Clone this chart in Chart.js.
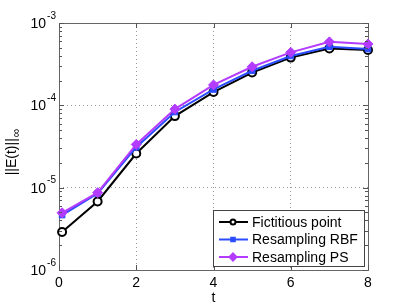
<!DOCTYPE html>
<html><head><meta charset="utf-8">
<script src="https://cdn.jsdelivr.net/npm/chart.js@4"></script>
<style>html,body{margin:0;padding:0;background:#fff}</style>
</head><body>
<div style="width:407px;height:306px"><canvas id="c"></canvas></div>
<script>
const tVals = [0.08, 1, 2, 3, 4, 5, 6, 7, 8];
const fictitious = [2.9e-6, 6.8e-6, 2.6e-5, 7.4e-5, 1.45e-4, 2.5e-4, 3.8e-4, 4.9e-4, 4.7e-4];
const resRBF = [4.65e-6, 8.5e-6, 3.1e-5, 8.3e-5, 1.56e-4, 2.63e-4, 3.98e-4, 5.15e-4, 4.83e-4];
const resPS = [4.95e-6, 8.7e-6, 3.35e-5, 9.0e-5, 1.77e-4, 2.94e-4, 4.4e-4, 5.9e-4, 5.55e-4];
const seriesNames = ["Fictitious point", "Resampling RBF", "Resampling PS"];
const xTicks = [0, 2, 4, 6, 8];
const yExps = [-6, -5, -4, -3];

const FONT = '"Liberation Sans", Arial, sans-serif';
const toPts = arr => arr.map((v, i) => ({ x: tVals[i], y: v }));

// etiquetas, ticks internos, caja y leyenda al estilo MATLAB
const matlabLook = {
  id: 'matlabLook',
  beforeDatasetsDraw(chart) {
    const { ctx, chartArea: a } = chart;
    ctx.save();
    ctx.strokeStyle = '#666';
    ctx.lineWidth = 1;
    ctx.strokeRect(Math.round(a.left) + 0.5, Math.round(a.top) + 0.5,
      Math.round(a.right - a.left), Math.round(a.bottom - a.top));
    ctx.restore();
  },
  afterDraw(chart) {
    const { ctx, chartArea: a, scales: { x, y } } = chart;
    ctx.save();
    ctx.strokeStyle = '#555';
    ctx.lineWidth = 1;
    ctx.beginPath();
    yExps.forEach(e => {
      const py = Math.round(y.getPixelForValue(Math.pow(10, e))) + 0.5;
      ctx.moveTo(a.left, py); ctx.lineTo(a.left + 5, py);
      ctx.moveTo(a.right, py); ctx.lineTo(a.right - 5, py);
      if (e < -3) {
        for (let m = 2; m <= 9; m++) {
          const qy = Math.round(y.getPixelForValue(m * Math.pow(10, e))) + 0.5;
          ctx.moveTo(a.left, qy); ctx.lineTo(a.left + 3, qy);
          ctx.moveTo(a.right, qy); ctx.lineTo(a.right - 3, qy);
        }
      }
    });
    xTicks.forEach(t => {
      const px = Math.round(x.getPixelForValue(t)) + 0.5;
      ctx.moveTo(px, a.bottom); ctx.lineTo(px, a.bottom - 5);
      ctx.moveTo(px, a.top); ctx.lineTo(px, a.top + 5);
    });
    ctx.stroke();

    ctx.fillStyle = '#000';
    ctx.textBaseline = 'middle';
    yExps.forEach(e => {
      const py = y.getPixelForValue(Math.pow(10, e));
      const sup = String(e);
      ctx.font = '10px ' + FONT;
      const sw = ctx.measureText(sup).width;
      ctx.font = '14px ' + FONT;
      ctx.textAlign = 'right';
      ctx.fillText('10', a.left - 4 - sw, py + 1);
      ctx.font = '10px ' + FONT;
      ctx.textAlign = 'left';
      ctx.fillText(sup, a.left - 3 - sw, py - 7);
    });
    ctx.font = '14px ' + FONT;
    ctx.textAlign = 'center';
    xTicks.forEach(t => ctx.fillText(String(t), x.getPixelForValue(t), a.bottom + 13));
    ctx.fillText('t', (a.left + a.right) / 2, a.bottom + 28);

    // titulo del eje y
    ctx.save();
    ctx.translate(12, (a.top + a.bottom) / 2 + 6);
    ctx.rotate(-Math.PI / 2);
    ctx.font = '14px ' + FONT;
    const main = '||E(t)||';
    const mw = ctx.measureText(main).width;
    ctx.font = '12px ' + FONT;
    const iw = ctx.measureText('\u221E').width;
    const x0 = -(mw + iw) / 2;
    ctx.font = '14px ' + FONT;
    ctx.textAlign = 'left';
    ctx.fillText(main, x0, 0);
    ctx.font = '12px ' + FONT;
    ctx.fillText('\u221E', x0 + mw + 1, 5);
    ctx.restore();

    // leyenda
    const lx = 213, ly = 210, lw = 151, lh = 56;
    ctx.fillStyle = '#fff';
    ctx.fillRect(lx, ly, lw, lh);
    ctx.strokeStyle = '#444';
    ctx.lineWidth = 1;
    ctx.strokeRect(lx + 0.5, ly + 0.5, lw, lh);
    chart.data.datasets.forEach((ds, i) => {
      const ry = ly + 12 + i * 17.5;
      ctx.strokeStyle = ds.borderColor;
      ctx.lineWidth = 2;
      ctx.beginPath();
      ctx.moveTo(lx + 6, ry); ctx.lineTo(lx + 35, ry);
      ctx.stroke();
      ctx.strokeStyle = ds.pointBorderColor;
      ctx.fillStyle = ds.pointBackgroundColor;
      Chart.helpers.drawPoint(ctx, {
        pointStyle: ds.pointStyle, radius: ds.pointRadius - 1.5, borderWidth: ds.pointBorderWidth
      }, lx + 20, ry);
      ctx.fillStyle = '#000';
      ctx.font = '14px ' + FONT;
      ctx.textAlign = 'left';
      ctx.fillText(ds.label, lx + 39, ry + 1);
    });
    ctx.restore();
  }
};

new Chart(document.getElementById('c'), {
  type: 'line',
  data: {
    datasets: [
      { label: seriesNames[0], data: toPts(fictitious), borderColor: '#000', pointBackgroundColor: '#fff',
        pointBorderColor: '#000', pointStyle: 'circle', pointRadius: 4, borderWidth: 2, pointBorderWidth: 2, order: 3, clip: false },
      { label: seriesNames[1], data: toPts(resRBF), borderColor: '#2b4cff', pointBackgroundColor: '#2b4cff',
        pointBorderColor: '#2b4cff', pointStyle: 'rect', pointRadius: 4, borderWidth: 2, pointBorderWidth: 1, order: 2, clip: false },
      { label: seriesNames[2], data: toPts(resPS), borderColor: '#b33cff', pointBackgroundColor: '#b33cff',
        pointBorderColor: '#b33cff', pointStyle: 'rectRot', pointRadius: 5, borderWidth: 2, pointBorderWidth: 1, order: 1, clip: false }
    ]
  },
  options: {
    responsive: true,
    maintainAspectRatio: false,
    animation: false,
    layout: { padding: { left: 59, right: 39, top: 23, bottom: 36 } },
    plugins: { legend: { display: false }, tooltip: { enabled: false } },
    scales: {
      x: {
        type: 'linear', min: 0, max: 8,
        afterBuildTicks: s => { s.ticks = xTicks.map(v => ({ value: v })); },
        ticks: { display: false },
        grid: { color: '#999', drawTicks: false },
        border: { display: false, dash: [1, 3] }
      },
      y: {
        type: 'logarithmic', min: 1e-6, max: 1e-3,
        afterBuildTicks: s => { s.ticks = yExps.map(e => ({ value: Math.pow(10, e) })); },
        ticks: { display: false },
        grid: { color: '#999', drawTicks: false },
        border: { display: false, dash: [1, 3] }
      }
    }
  },
  plugins: [matlabLook]
});
</script>
</body></html>
